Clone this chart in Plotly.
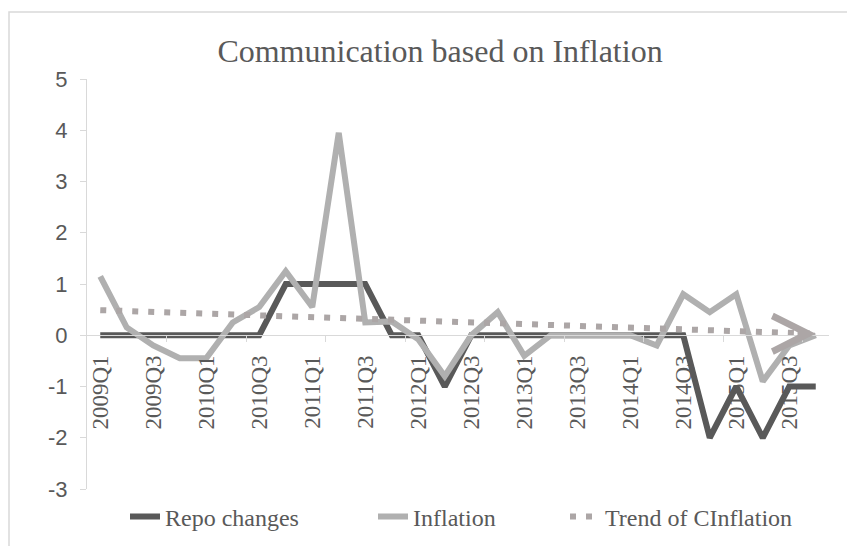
import plotly.graph_objects as go

quarters = ["2009Q1", "2009Q2", "2009Q3", "2009Q4",
            "2010Q1", "2010Q2", "2010Q3", "2010Q4",
            "2011Q1", "2011Q2", "2011Q3", "2011Q4",
            "2012Q1", "2012Q2", "2012Q3", "2012Q4",
            "2013Q1", "2013Q2", "2013Q3", "2013Q4",
            "2014Q1", "2014Q2", "2014Q3", "2014Q4",
            "2015Q1", "2015Q2", "2015Q3", "2015Q4"]
label_quarters = quarters[::2]

y_ticks = [-3, -2, -1, 0, 1, 2, 3, 4, 5]
y_tick_text = ["-3", "-2", "-1", "0", "1", "2", "3", "4", "5"]

repo_changes = [0, 0, 0, 0, 0, 0, 0, 1, 1, 1, 1, 0, 0, -1,
                0, 0, 0, 0, 0, 0, 0, 0, 0, -2, -1, -2, -1, -1]
inflation = [1.15, 0.15, -0.2, -0.45, -0.45, 0.25, 0.55, 1.25, 0.55, 3.95,
             0.25, 0.27, -0.08, -0.8, 0.0, 0.45, -0.4, 0.0, 0.0, 0.0,
             0.0, -0.2, 0.8, 0.45, 0.8, -0.9, -0.2, 0.0]
trend_x = [quarters[0], quarters[-1]]
trend_y = [0.49, 0.03]

TXT = "#595959"
AX = "#d9d9d9"
SERIF = "Liberation Serif, Times New Roman, serif"
SANS = "Liberation Sans, Arial, sans-serif"
TREND_C = "#aca6a6"

# page body has an 8px default margin, so the figure is 8px smaller than the window
W, H = 847, 538
L, T, R, B = 79, 71, 26, 57
PW, PH = W - L - R, H - T - B

fig = go.Figure()
fig.add_trace(go.Scatter(x=quarters, y=repo_changes, mode="lines", name="Repo changes",
                         line=dict(color="#595959", width=6), legend="legend"))
fig.add_trace(go.Scatter(x=quarters, y=inflation, mode="lines", name="Inflation",
                         line=dict(color="#b0b0b0", width=6), legend="legend2"))
fig.add_trace(go.Scatter(x=trend_x, y=trend_y, mode="lines", name="Trend of CInflation",
                         line=dict(color=TREND_C, width=6, dash="6px,10px"), legend="legend3"))
fig.add_trace(go.Scatter(x=[], y=[], xaxis="x2", showlegend=False, hoverinfo="skip"))

# arrow head at end of trend line
fig.add_annotation(x=trend_x[-1], y=trend_y[-1], ax=-16, ay=0,
                   xref="x", yref="y", axref="pixel", ayref="pixel", text="",
                   showarrow=True, arrowhead=5, arrowwidth=5, arrowsize=1.4,
                   arrowcolor=TREND_C, standoff=0)

# outer chart border (partly cropped)
fig.add_shape(type="rect", xref="paper", yref="paper",
              x0=(1 - L) / PW, x1=1.3, y0=-0.5, y1=1 + (T - 4) / PH,
              line=dict(color="#d9d9d9", width=1.5), fillcolor="rgba(0,0,0,0)")

legend_font = dict(family=SERIF, size=24, color=TXT)
fig.update_layout(
    template="none",
    width=W, height=H,
    margin=dict(l=L, r=R, t=T, b=B, autoexpand=False),
    paper_bgcolor="white", plot_bgcolor="white",
    title=dict(text="Communication based on Inflation", x=432 / W, xref="container",
               xanchor="center", y=1 - 43 / H, yref="container", yanchor="middle",
               font=dict(family=SERIF, size=32, color=TXT)),
    xaxis=dict(type="category", categoryorder="array", categoryarray=quarters,
               range=[-0.5, len(quarters) - 0.5], anchor="free", position=0.375,
               automargin=False,
               showline=True, linecolor=AX, linewidth=1, ticks="",
               tickmode="array", tickvals=label_quarters, ticktext=label_quarters,
               tickangle=-90, ticklabelstandoff=10,
               tickfont=dict(family=SERIF, size=23, color=TXT), showgrid=False, zeroline=False),
    xaxis2=dict(overlaying="x", range=[-0.5, len(quarters) - 0.5], anchor="free", position=0.375,
                automargin=False,
                showline=False, showgrid=False, zeroline=False, showticklabels=False,
                ticks="outside", ticklen=6, tickcolor=AX, tickwidth=1,
                tickmode="array", tickvals=[i + 2.5 for i in range(0, 27, 3)]),
    yaxis=dict(range=[-3, 5], tickmode="array", tickvals=y_ticks, ticktext=y_tick_text,
               automargin=False, showline=True, linecolor=AX, linewidth=1,
               ticks="outside", ticklen=6, tickcolor=AX, showgrid=False, zeroline=False,
               ticklabelstandoff=8, tickfont=dict(family=SANS, size=22, color=TXT)),
    legend=dict(orientation="h", x=(125 - 87) / PW, xanchor="left", y=-0.068, yanchor="middle",
                font=legend_font, bgcolor="rgba(0,0,0,0)"),
    legend2=dict(orientation="h", x=(373 - 87) / PW, xanchor="left", y=-0.068, yanchor="middle",
                 font=legend_font, bgcolor="rgba(0,0,0,0)"),
    legend3=dict(orientation="h", x=(565 - 87) / PW, xanchor="left", y=-0.068, yanchor="middle",
                 font=legend_font, bgcolor="rgba(0,0,0,0)"),
    showlegend=True,
)

fig.write_html("out.html")
